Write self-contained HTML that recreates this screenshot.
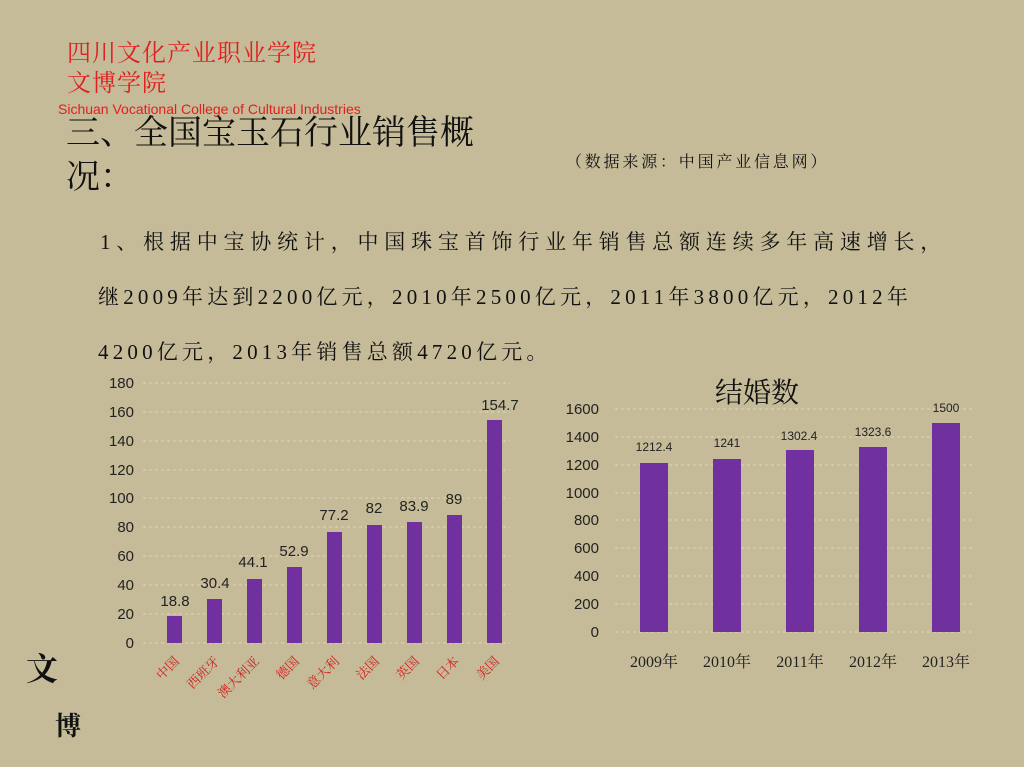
<!DOCTYPE html>
<html><head><meta charset="utf-8"><style>
body{margin:0;width:1024px;height:767px;background:#c5bb98;overflow:hidden;position:relative;font-family:"Liberation Serif","Noto Serif CJK SC",serif}
.a{position:absolute;white-space:nowrap}
.t{position:absolute;white-space:nowrap;font-size:21px;color:#111;font-family:'Liberation Serif','Noto Serif CJK SC',serif}
</style></head><body>
<div class="a" style="left:67px;top:36px;font-size:24px;color:#e02020;font-family:'Noto Serif CJK SC',serif;line-height:30px;letter-spacing:1px">四川文化产业职业学院<br>文博学院</div>
<div class="a" style="left:58px;top:101px;font-size:14px;color:#e02020;font-family:'Liberation Sans',sans-serif">Sichuan Vocational College of Cultural Industries</div>
<div class="a" style="left:66px;top:108px;font-size:34px;color:#111;line-height:44px;font-family:'Noto Serif CJK SC',serif">三、全国宝玉石行业销售概<br>况：</div>
<div class="a" style="left:566px;top:149px;font-size:16px;color:#111;letter-spacing:2.8px;font-family:'Noto Serif CJK SC',serif">（数据来源：中国产业信息网）</div>
<div class="t" style="left:100px;top:226px;letter-spacing:5.8px">1、根据中宝协统计，中国珠宝首饰行业年销售总额连续多年高速增长，</div>
<div class="t" style="left:98px;top:281px;letter-spacing:4.2px">继2009年达到2200亿元，2010年2500亿元，2011年3800亿元，2012年</div>
<div class="t" style="left:98px;top:336px;letter-spacing:4.2px">4200亿元，2013年销售总额4720亿元。</div>
<svg class="a" style="left:0;top:0" width="1024" height="767" font-family="Liberation Sans,sans-serif">
<g stroke="#ddd6bb" stroke-dasharray="3,3" stroke-width="1">
<line x1="143" x2="510" y1="643" y2="643"/><line x1="143" x2="510" y1="614" y2="614"/><line x1="143" x2="510" y1="585" y2="585"/><line x1="143" x2="510" y1="556" y2="556"/><line x1="143" x2="510" y1="527" y2="527"/><line x1="143" x2="510" y1="498" y2="498"/><line x1="143" x2="510" y1="470" y2="470"/><line x1="143" x2="510" y1="441" y2="441"/><line x1="143" x2="510" y1="412" y2="412"/><line x1="143" x2="510" y1="383" y2="383"/>
<line x1="615" x2="975" y1="632" y2="632"/><line x1="615" x2="975" y1="604" y2="604"/><line x1="615" x2="975" y1="576" y2="576"/><line x1="615" x2="975" y1="548" y2="548"/><line x1="615" x2="975" y1="520" y2="520"/><line x1="615" x2="975" y1="493" y2="493"/><line x1="615" x2="975" y1="465" y2="465"/><line x1="615" x2="975" y1="437" y2="437"/><line x1="615" x2="975" y1="409" y2="409"/>
</g>
<g font-size="15" fill="#222" text-anchor="end">
<text x="134" y="648">0</text><text x="134" y="619">20</text><text x="134" y="590">40</text><text x="134" y="561">60</text><text x="134" y="532">80</text><text x="134" y="503">100</text><text x="134" y="475">120</text><text x="134" y="446">140</text><text x="134" y="417">160</text><text x="134" y="388">180</text>
<text x="599" y="637">0</text><text x="599" y="609">200</text><text x="599" y="581">400</text><text x="599" y="553">600</text><text x="599" y="525">800</text><text x="599" y="498">1000</text><text x="599" y="470">1200</text><text x="599" y="442">1400</text><text x="599" y="414">1600</text>
</g>
<g fill="#7030a0">
<rect x="167" y="616" width="15" height="27"/><rect x="207" y="599" width="15" height="44"/><rect x="247" y="579" width="15" height="64"/><rect x="287" y="567" width="15" height="76"/><rect x="327" y="532" width="15" height="111"/><rect x="367" y="525" width="15" height="118"/><rect x="407" y="522" width="15" height="121"/><rect x="447" y="515" width="15" height="128"/><rect x="487" y="420" width="15" height="223"/>
<rect x="640" y="463" width="28" height="169"/><rect x="713" y="459" width="28" height="173"/><rect x="786" y="450" width="28" height="182"/><rect x="859" y="447" width="28" height="185"/><rect x="932" y="423" width="28" height="209"/>
</g>
<g font-size="15" fill="#222" text-anchor="middle">
<text x="175" y="606">18.8</text><text x="215" y="588">30.4</text><text x="253" y="567">44.1</text><text x="294" y="556">52.9</text><text x="334" y="520">77.2</text><text x="374" y="513">82</text><text x="414" y="511">83.9</text><text x="454" y="504">89</text><text x="500" y="410">154.7</text>
</g>
<g font-size="12" fill="#222" text-anchor="middle">
<text x="654" y="451">1212.4</text><text x="727" y="447">1241</text><text x="799" y="440">1302.4</text><text x="873" y="436">1323.6</text><text x="946" y="412">1500</text>
</g>
<text x="757" y="402" font-size="28" text-anchor="middle" fill="#111" font-family="Noto Serif CJK SC,serif">结婚数</text>
<g font-size="16" fill="#222" text-anchor="middle" font-family="Liberation Serif,Noto Serif CJK SC,serif">
<text x="654" y="667">2009年</text><text x="727" y="667">2010年</text><text x="800" y="667">2011年</text><text x="873" y="667">2012年</text><text x="946" y="667">2013年</text>
</g>
<g font-size="13" fill="#d02020" text-anchor="end" font-family="Noto Serif CJK SC,serif">
<text transform="translate(180,662) rotate(-45)">中国</text>
<text transform="translate(220,662) rotate(-45)">西班牙</text>
<text transform="translate(260,662) rotate(-45)">澳大利亚</text>
<text transform="translate(300,662) rotate(-45)">德国</text>
<text transform="translate(340,662) rotate(-45)">意大利</text>
<text transform="translate(380,662) rotate(-45)">法国</text>
<text transform="translate(420,662) rotate(-45)">英国</text>
<text transform="translate(460,662) rotate(-45)">日本</text>
<text transform="translate(500,662) rotate(-45)">美国</text>
</g>
<text x="26" y="680" font-size="32" font-weight="bold" fill="#111" font-family="Noto Serif CJK SC,serif">文</text>
<text x="55" y="735" font-size="26" font-weight="bold" fill="#111" font-family="Noto Serif CJK SC,serif">博</text>
</svg>
</body></html>
